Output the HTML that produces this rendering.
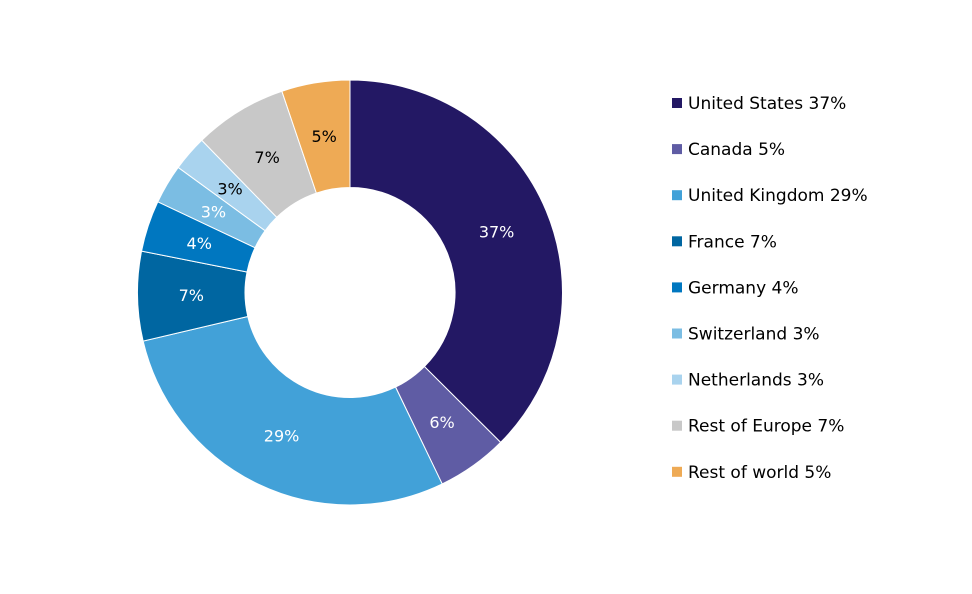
<!DOCTYPE html>
<html><head><meta charset="utf-8"><style>
body{margin:0;background:#fff;}
svg{display:block;font-family:"DejaVu Sans","Liberation Sans",sans-serif;}
</style></head><body>
<svg id="chart" width="972" height="594"></svg>
<script>
const categories=["United States","Canada","United Kingdom","France","Germany","Switzerland","Netherlands","Rest of Europe","Rest of world"];
const sliceValues=[37.5,5.4,28.5,6.8,3.9,3.0,2.7,7.1,5.2];
const sliceLabels=[37,6,29,7,4,3,3,7,5];
const legendValues=[37,5,29,7,4,3,3,7,5];
const colors=["#231864","#5f5ca4","#42a1d8","#0066a1","#0077c0","#7bbde3","#a9d3ee","#c8c8c8","#eeaa55"];
const labelColors=["#fff","#fff","#fff","#fff","#fff","#fff","#000","#000","#000"];
const NS="http://www.w3.org/2000/svg";
const svg=document.getElementById("chart");
const cx=350,cy=292.5,R=212.5,r=105;
const total=sliceValues.reduce((a,b)=>a+b,0);
function pt(rad,a){return [cx+rad*Math.sin(a),cy-rad*Math.cos(a)];}
let acc=0;
sliceValues.forEach((v,i)=>{
  const a0=acc/total*2*Math.PI;acc+=v;const a1=acc/total*2*Math.PI;
  const large=(a1-a0)>Math.PI?1:0;
  const [x0,y0]=pt(R,a0),[x1,y1]=pt(R,a1),[x2,y2]=pt(r,a1),[x3,y3]=pt(r,a0);
  const p=document.createElementNS(NS,"path");
  p.setAttribute("d",`M${x0},${y0}A${R},${R} 0 ${large} 1 ${x1},${y1}L${x2},${y2}A${r},${r} 0 ${large} 0 ${x3},${y3}Z`);
  p.setAttribute("fill",colors[i]);p.setAttribute("stroke","#fff");p.setAttribute("stroke-width","1");
  
  
  svg.appendChild(p);
  const [lx,ly]=pt((R+r)/2,(a0+a1)/2);
  const t=document.createElementNS(NS,"text");
  t.setAttribute("x",lx);t.setAttribute("y",ly+6);t.setAttribute("text-anchor","middle");
  t.setAttribute("font-size","16");t.setAttribute("fill",labelColors[i]);
  t.textContent=sliceLabels[i]+"%";
  
  
  svg.appendChild(t);
});
categories.forEach((c,i)=>{
  const y=103+i*46.1;
  const g=document.createElementNS(NS,"g");
  
  
  const s=document.createElementNS(NS,"rect");
  s.setAttribute("x",672);s.setAttribute("y",y-5);s.setAttribute("width",10);s.setAttribute("height",10);s.setAttribute("fill",colors[i]);
  
  
  const t=document.createElementNS(NS,"text");
  t.setAttribute("x",688);t.setAttribute("y",y+6);t.setAttribute("font-size","17");t.setAttribute("fill","#000");
  t.textContent=c+" "+legendValues[i]+"%";
  
  
  g.appendChild(s);g.appendChild(t);svg.appendChild(g);
});
</script>
</body></html>
